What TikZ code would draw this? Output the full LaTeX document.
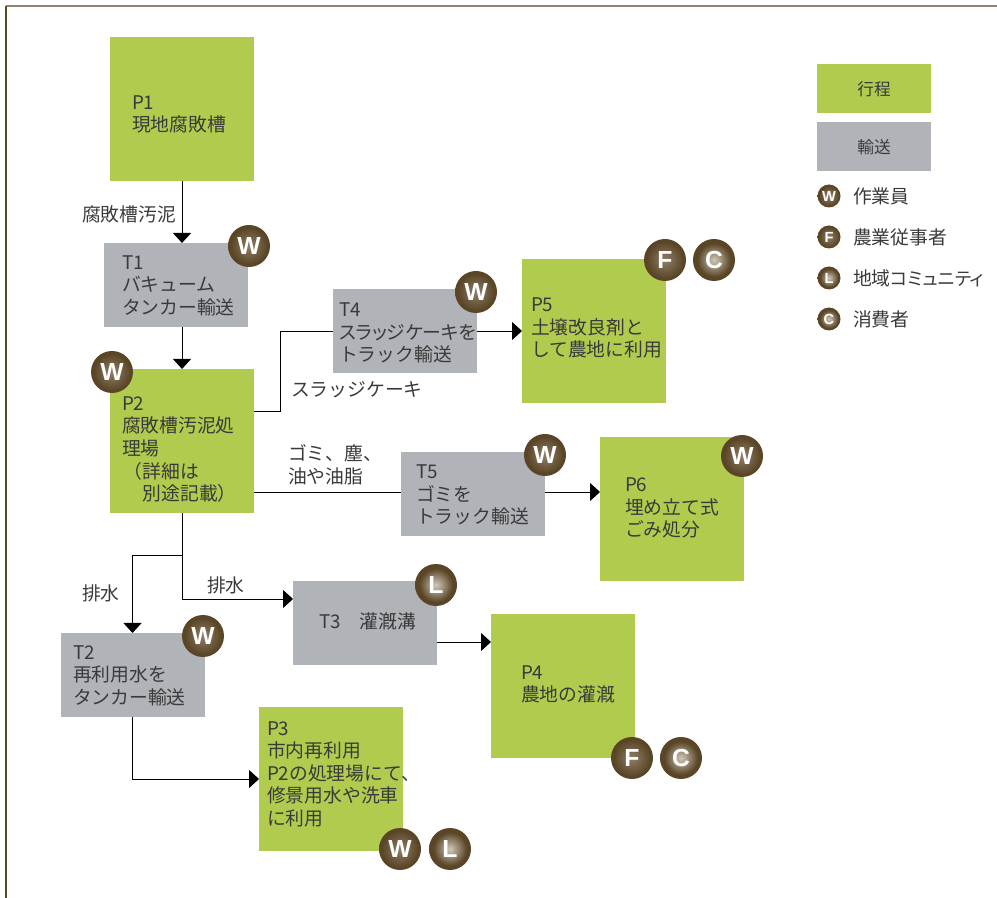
\documentclass[tikz,border=0pt]{standalone}
\usepackage{fontspec}
\setmainfont{Noto Sans CJK JP}
\newfontfamily\badgefont{Liberation Sans}[BoldFont={Liberation Sans Bold}]
\newfontfamily\paltfont[RawFeature=+palt]{Noto Sans CJK JP}
\usetikzlibrary{arrows.meta}
\definecolor{procgreen}{HTML}{B0CB4E}
\definecolor{transgray}{HTML}{B0B3B7}
\definecolor{badgebrown}{HTML}{5A4526}
\definecolor{badgemid}{HTML}{8E7F68}
\definecolor{badgelight}{HTML}{CFC8BA}
\definecolor{inktext}{HTML}{3A3A3A}
\definecolor{frametop}{HTML}{8F846C}
\pgfdeclareradialshading{badgeglow}{\pgfpointorigin}{color(0bp)=(badgemid); color(22bp)=(badgebrown); color(50bp)=(badgebrown)}
\pgfdeclareradialshading{badgeglowlight}{\pgfpointorigin}{color(0bp)=(badgelight); color(20bp)=(badgebrown); color(50bp)=(badgebrown)}
\tikzset{
  x=0.75pt,y=-0.75pt,
  every node/.style={inner sep=0pt,outer sep=0pt},
  proc/.style={fill=procgreen,minimum width=108pt,minimum height=108pt},
  trans/.style={fill=transgray,minimum width=108pt,minimum height=63pt},
  legbox/.style={minimum width=85.5pt,minimum height=36.75pt},
  txt/.style={anchor=west,align=left,text=inktext,font=\fontsize{14.1}{16.9}\selectfont},
  ctxt/.style={anchor=center,align=center,text=inktext,font=\fontsize{12.5}{16}\selectfont},
  bigb/.style={circle,minimum size=31.5pt,shading=badgeglow,text=white,font=\badgefont\bfseries\fontsize{18.5}{18.5}\selectfont},
  bigl/.style={bigb,shading=badgeglowlight},
  smallb/.style={circle,minimum size=17.25pt,shading=badgeglow,text=white,font=\badgefont\bfseries\fontsize{11}{11}\selectfont},
  smalll/.style={smallb,shading=badgeglowlight},
  conn/.style={draw=black,line width=0.7pt},
  arr/.style={conn,-{Triangle[length=7.5pt,width=13.5pt]}},
}
\begin{document}
\begin{tikzpicture}
\useasboundingbox (0,0) rectangle (997,898);
% frame
\coordinate (fc) at (6,6);
\coordinate (fr) at (997,6);
\coordinate (fb) at (6,898);
\draw[frametop,line width=0.8pt] (fc) -- (fr);
\draw[badgebrown,line width=0.8pt] (fc) -- (fb);
% process and transport boxes
\node[proc] (P1) at (182,109) {};
\node[trans] (T1) at (176,285) {};
\node[proc] (P2) at (182,441) {};
\node[trans] (T4) at (405,331) {};
\node[proc] (P5) at (594,331) {};
\node[trans] (T5) at (473,494) {};
\node[proc] (P6) at (672,509) {};
\node[trans] (T3) at (365,623) {};
\node[proc] (P4) at (563,686) {};
\node[trans] (T2) at (133,675) {};
\node[proc] (P3) at (331,779) {};
% connector helpers
\coordinate (p2e1) at (254,411);
\coordinate (bend1) at (280,411);
\coordinate (bend2) at (280,331);
\coordinate (p2e2) at (254,492);
\coordinate (t5w) at (401,492);
\coordinate (t5e) at (545,492);
\coordinate (p6w) at (600,492);
\coordinate (split) at (182,555);
\coordinate (t3in) at (293,599);
\coordinate (t2top) at (132.5,633);
\coordinate (t3out) at (437,642);
\coordinate (p4in) at (491,642);
\coordinate (t2bot) at (132.5,717);
\coordinate (p3in) at (259,779);
% connectors
\draw[arr] (P1.south) -- (P1.south |- T1.north);
\draw[arr] (P2.north |- T1.south) -- (P2.north);
\draw[conn] (p2e1) -- (bend1) -- (bend2) -- (T4.west);
\draw[arr] (T4.east) -- (P5.west);
\draw[conn] (p2e2) -- (t5w);
\draw[arr] (t5e) -- (p6w);
\draw[arr] (P2.south) |- (t3in);
\draw[arr] (split) -| (t2top);
\draw[arr] (t3out) -- (p4in);
\draw[arr] (t2bot) |- (p3in);
% box texts
\node[txt] (tP1) at (132,114.5) {P1\\現地腐敗槽};
\node[txt] (tT1) at (122,285.5) {T1\\バキューム\\タンカー輸送};
\node[txt] (tP2) at (122,449.5) {P2\\腐敗槽汚泥処\\理場\\\hspace*{0.1em}（詳細は\\\hspace*{1.1em}別途記載）};
\node[txt] (tT4) at (339,333) {T4\\{\paltfont スラッジケーキを}\\トラック輸送};
\node[txt] (tP5) at (531,328) {P5\\土壌改良剤と\\して農地に利用};
\node[txt] (tT5) at (416,495) {T5\\ゴミを\\トラック輸送};
\node[txt] (tP6) at (625,508) {P6\\埋め立て式\\ごみ処分};
\node[txt] (tT3) at (319,621) {T3　灌漑溝};
\node[txt] (tP4) at (521,684.5) {P4\\農地の灌漑};
\node[txt] (tT2) at (73,675.5) {T2\\再利用水を\\タンカー輸送};
\node[txt] (tP3) at (267,774) {P3\\市内再利用\\P2の処理場にて、\\修景用水や洗車\\に利用};
% connector labels
\node[txt] (l1) at (82,214) {腐敗槽汚泥};
\node[txt] (l2) at (291,390) {スラッジケーキ};
\node[txt] (l3) at (288,464.5) {ゴミ、塵、\\油や油脂};
\node[txt] (l4) at (82,593) {排水};
\node[txt] (l5) at (207,585) {排水};
% badges
\node[bigb] (bT1) at (249,246) {W};
\node[bigb] (bP2) at (112,372) {W};
\node[bigb] (bT4) at (476,292) {W};
\node[bigb] (bP5a) at (665,260) {F};
\node[bigl] (bP5b) at (714,260) {C};
\node[bigb] (bT5) at (545,455) {W};
\node[bigb] (bP6) at (742,456) {W};
\node[bigl] (bT3) at (436,585) {L};
\node[bigb] (bT2) at (203,636) {W};
\node[bigb] (bP4a) at (632,758) {F};
\node[bigl] (bP4b) at (681,758) {C};
\node[bigb] (bP3a) at (400,849) {W};
\node[bigl] (bP3b) at (450,849) {L};
% legend
\node[legbox,fill=procgreen] (lgP) at (874,88.5) {};
\node[ctxt,yshift=-0.5pt] (lgPt) at (lgP) {行程};
\node[legbox,fill=transgray] (lgT) at (874,146.5) {};
\node[ctxt,yshift=-0.5pt] (lgTt) at (lgT) {輸送};
\node[smallb] (lgW) at (829,196) {W};
\node[smallb] (lgF) at (829,237) {F};
\node[smalll] (lgL) at (829,278) {L};
\node[smalll] (lgC) at (829,319) {C};
\node[txt] (lgWt) at (853,196.3) {作業員};
\node[txt] (lgFt) at (853,237.3) {農業従事者};
\node[txt] (lgLt) at (853,278.3) {地域{\paltfont\fontsize{13.6}{16.9}\selectfont コミュニティ}};
\node[txt] (lgCt) at (853,319.3) {消費者};
\end{tikzpicture}
\end{document}
